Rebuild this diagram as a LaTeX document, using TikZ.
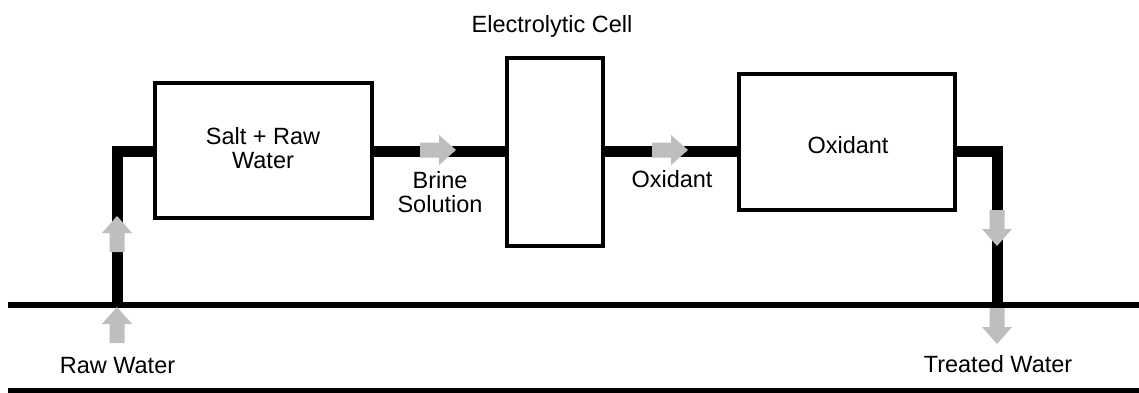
\documentclass[tikz,border=0pt]{standalone}
\usepackage{fontspec}
\setmainfont{Liberation Sans}
\definecolor{arrowgray}{RGB}{190,190,190}
\begin{document}
\begin{tikzpicture}[x=1pt,y=-1pt,
  every node/.style={font=\fontsize{23.5}{24}\selectfont, inner sep=0pt},
  unit/.style={draw, line width=4pt, fill=white, minimum width=#1},
  pipe/.style={line width=11pt, line join=miter},
  ground/.style={line width=5.5pt},
  lbl/.style={anchor=base},
  blockarrow/.pic={\fill[arrowgray] (0,-7.5) -- (19,-7.5) -- (19,-15) -- (36,0) -- (19,15) -- (19,7.5) -- (0,7.5) -- cycle;}
]
\useasboundingbox (0,0) rectangle (1139,393);

% ground lines
\coordinate (g1l) at (8,305);
\coordinate (g1r) at (1139,305);
\coordinate (g2l) at (8,391);
\coordinate (g2r) at (1139,391);
\draw[ground] (g1l) -- (g1r);
\draw[ground] (g2l) -- (g2r);

% pipe level and corners
\coordinate (py) at (0,151);
\coordinate (lin) at (117,305);
\coordinate (rout) at (997,305);
\coordinate (rcorner) at (997,151);

% units
\node[unit=217pt, minimum height=135pt] (b1) at (263.5,150.5) {};
\node[unit=96pt, minimum height=188pt] (cell) at (555,152) {};
\node[unit=216pt, minimum height=136pt] (ox) at (847,142) {};

% pipes
\draw[pipe] (lin) |- (b1.west |- py);
\draw[pipe] (b1.east |- py) -- (cell.west |- py);
\draw[pipe] (cell.east |- py) -- (ox.west |- py);
\draw[pipe] (ox.east |- py) -- (rcorner) -- (rout);

% labels
\node[align=center] (t1) at (263,148) {Salt + Raw\\Water};
\node[align=center] (t2) at (440,192) {Brine\\Solution};
\node[lbl] (t3) at (552,32.5) {Electrolytic Cell};
\node[lbl] (t4) at (672,187) {Oxidant};
\node[lbl] (t5) at (848,153) {Oxidant};
\node[lbl] (t6) at (117.5,373) {Raw Water};
\node[lbl] (t7) at (998,372) {Treated Water};

% flow arrows
\pic at (420,150) {blockarrow};
\pic at (652,150) {blockarrow};
\pic[rotate=90] at (117,252) {blockarrow};
\pic[rotate=90] at (117,343) {blockarrow};
\pic[rotate=-90] at (997,210) {blockarrow};
\pic[rotate=-90] at (997,308) {blockarrow};
\end{tikzpicture}
\end{document}
